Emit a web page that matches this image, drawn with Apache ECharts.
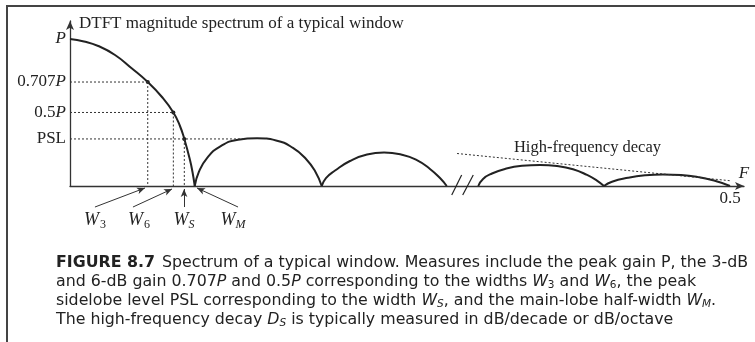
<!DOCTYPE html>
<html>
<head>
<meta charset="utf-8">
<title>Spectrum of a typical window</title>
<script src="https://cdn.jsdelivr.net/npm/echarts@6/dist/echarts.min.js"></script>
<style>
  html, body { margin: 0; padding: 0; background: #fff; }
  #chart { width: 755px; height: 342px; }
</style>
</head>
<body>
<div id="chart"></div>
<script>
// digital frequency F and magnitude (relative to P)
const mainF = [0, 0.0106, 0.0214, 0.0341, 0.0467, 0.0589, 0.0695, 0.0783, 0.0833, 0.0866, 0.0909, 0.0928, 0.0945]
const mainA = [1, 0.983, 0.952, 0.891, 0.801, 0.707, 0.607, 0.5, 0.408, 0.32, 0.177, 0.095, 0]
const lobe1F = [0.0945, 0.0977, 0.1038, 0.1136, 0.1273, 0.1417, 0.1561, 0.1689, 0.1788, 0.1856, 0.1907]
const lobe1A = [0, 0.098, 0.19, 0.268, 0.315, 0.324, 0.310, 0.259, 0.184, 0.102, 0]
const lobe2F = [0.1907, 0.1939, 0.2008, 0.2121, 0.2250, 0.2379, 0.2508, 0.2621, 0.2727, 0.2803, 0.2854]
const lobe2A = [0, 0.054, 0.105, 0.170, 0.214, 0.227, 0.214, 0.180, 0.116, 0.054, 0]
const lobe3F = [0.3093, 0.3129, 0.3197, 0.3295, 0.3424, 0.3561, 0.3689, 0.3811, 0.3917, 0.3992, 0.4045]
const lobe3A = [0, 0.048, 0.085, 0.116, 0.137, 0.143, 0.136, 0.114, 0.075, 0.037, 0]
const lobe4F = [0.4045, 0.4106, 0.4227, 0.4356, 0.4492, 0.4629, 0.4758, 0.4879, 0.5]
const lobe4A = [0, 0.029, 0.056, 0.073, 0.079, 0.075, 0.061, 0.037, 0]

// marked levels on the y axis and the widths they give
const levelVals = [1, 0.707, 0.5, 0.32]
const levelNames = ['{i|P}', '0.707{i|P}', '0.5{i|P}', 'PSL']
const levelEndF = [0, 0.0589, 0.0783, 0.1326] // where each dotted level line stops
const widthF = [0.0589, 0.0783, 0.0866, 0.0945] // W3, W6, WS, WM
const widthNames = ['{w|W}{s|3}', '{w|W}{s|6}', '{w|W}{si|S}', '{w|W}{si|M}']

// W label spots and pointer arrows (lower strip, same F scale)
const labelF = [0.0189, 0.0523, 0.0864, 0.1235]
const labelA = -0.231
const arrowTail = [[0.0189, -0.143], [0.0477, -0.143], [0.0864, -0.143], [0.1273, -0.143]]
const arrowHead = [[0.0568, -0.0136], [0.0773, -0.0204], [0.0864, -0.0204], [0.0962, -0.0136]]

// high-frequency decay envelope and axis break
const decayF = [0.2932, 0.5]
const decayA = [0.221, 0.036]
const decayLabel = [0.392, 0.259]
const breakMarks = [
  [[0.2892, -0.0612], [0.2967, 0.0748]],
  [[0.2975, -0.0612], [0.3055, 0.0748]]
]

const ink = '#222'
const serif = 'Liberation Serif'
const sans = 'DejaVu Sans'

function pairs (f, a) {
  return f.map((x, i) => [x, a[i]])
}

function lobe (f, a) {
  return {
    type: 'line',
    data: pairs(f, a),
    smooth: 0.5,
    symbol: 'none',
    silent: true,
    lineStyle: { color: ink, width: 2 }
  }
}

function dotted (data) {
  return {
    type: 'line',
    data: data,
    symbol: 'none',
    silent: true,
    lineStyle: { color: '#333', width: 1, type: [2, 2] }
  }
}

const series = [
  lobe(mainF, mainA),
  lobe(lobe1F, lobe1A),
  lobe(lobe2F, lobe2A),
  lobe(lobe3F, lobe3A),
  lobe(lobe4F, lobe4A)
]
// horizontal level lines and vertical drops to the widths
for (let i = 1; i < levelVals.length; i++) {
  series.push(dotted([[0, levelVals[i]], [levelEndF[i], levelVals[i]]]))
  series.push(dotted([[widthF[i - 1], levelVals[i]], [widthF[i - 1], 0]]))
}
series.push({
  type: 'scatter',
  data: levelVals.slice(1).map((v, i) => [widthF[i], v]),
  symbolSize: 4,
  silent: true,
  itemStyle: { color: ink, opacity: 1 }
})
series.push(dotted(pairs(decayF, decayA)))
series.push({
  type: 'scatter',
  data: [decayLabel],
  symbolSize: 0,
  silent: true,
  itemStyle: { opacity: 1 },
  label: {
    show: true,
    position: 'inside',
    formatter: 'High-frequency decay',
    fontFamily: serif,
    fontSize: 16.5,
    color: ink
  }
})
breakMarks.forEach(m => {
  series.push({
    type: 'line',
    data: m,
    symbol: 'none',
    clip: false,
    silent: true,
    lineStyle: { color: ink, width: 1.2 }
  })
})
// W labels with their arrows in the strip under the axis
series.push({
  type: 'scatter',
  xAxisIndex: 1,
  yAxisIndex: 1,
  data: labelF.map((x, i) => [x, labelA, i]),
  symbolSize: 0,
  silent: true,
  itemStyle: { opacity: 1 },
  label: {
    show: true,
    position: 'inside',
    formatter: p => widthNames[p.data[2]],
    rich: {
      w: { fontFamily: serif, fontStyle: 'italic', fontSize: 18, color: ink },
      s: { fontFamily: serif, fontSize: 12, color: ink, padding: [10, 0, 0, 1] },
      si: { fontFamily: serif, fontStyle: 'italic', fontSize: 12, color: ink, padding: [10, 0, 0, 0] }
    }
  },
  markLine: {
    silent: true,
    symbol: ['none', 'arrow'],
    symbolSize: [5, 8],
    label: { show: false },
    lineStyle: { color: '#333', width: 1, type: 'solid', opacity: 1 },
    data: arrowTail.map((t, i) => [{ coord: t }, { coord: arrowHead[i] }])
  }
})

const chart = echarts.init(document.getElementById('chart'))
chart.setOption({
  animation: false,
  backgroundColor: '#fff',
  title: {
    left: 56,
    top: 253,
    padding: 0,
    text: '{b|FIGURE 8.7} Spectrum of a typical window. Measures include the peak gain P, the 3-dB\n' +
      'and 6-dB gain 0.707{i|P} and 0.5{i|P} corresponding to the widths {i|W}{s|3} and {i|W}{s|6}, the peak\n' +
      'sidelobe level PSL corresponding to the width {i|W}{si|S}, and the main-lobe half-width {i|W}{si|M}.\n' +
      'The high-frequency decay {i|D}{si|S} is typically measured in dB/decade or dB/octave',
    textStyle: {
      fontFamily: sans,
      fontSize: 15.8,
      fontWeight: 'normal',
      color: ink,
      lineHeight: 19,
      rich: {
        b: { fontFamily: sans, fontSize: 15.8, fontWeight: 'bold', color: ink, lineHeight: 19, padding: [0, 2, 0, 0] },
        i: { fontFamily: sans, fontSize: 15.8, fontStyle: 'italic', color: ink, lineHeight: 19 },
        s: { fontFamily: sans, fontSize: 10.5, color: ink, lineHeight: 19, padding: [7, 0, 0, 0] },
        si: { fontFamily: sans, fontSize: 10.5, fontStyle: 'italic', color: ink, lineHeight: 19, padding: [7, 0, 0, 0] }
      }
    }
  },
  graphic: [
    { type: 'line', shape: { x1: 6, y1: 6, x2: 755, y2: 6 }, style: { stroke: '#444', lineWidth: 2 } },
    { type: 'line', shape: { x1: 7, y1: 6, x2: 7, y2: 342 }, style: { stroke: '#444', lineWidth: 2 } }
  ],
  grid: [
    { left: 70, right: 11, top: 21, bottom: 156 },
    { left: 70, right: 11, top: 186, bottom: 110 }
  ],
  xAxis: [
    {
      type: 'value',
      min: 0,
      max: 0.5106,
      name: 'F',
      nameLocation: 'end',
      nameGap: 0,
      nameTextStyle: {
        fontFamily: serif, fontStyle: 'italic', fontSize: 17, color: ink,
        align: 'center', verticalAlign: 'bottom', padding: [0, 0, 4, 0]
      },
      axisLine: { lineStyle: { color: '#333', width: 1.3 }, symbol: ['none', 'arrow'], symbolSize: [6, 9] },
      axisTick: { show: false },
      splitLine: { show: false },
      axisLabel: {
        customValues: [0.5],
        formatter: v => String(v),
        margin: 4,
        fontFamily: serif,
        fontSize: 17,
        color: ink
      }
    },
    { type: 'value', gridIndex: 1, min: 0, max: 0.5106, show: false }
  ],
  yAxis: [
    {
      type: 'value',
      min: 0,
      max: 1.122,
      name: 'DTFT magnitude spectrum of a typical window',
      nameLocation: 'end',
      nameGap: -3,
      nameTextStyle: {
        fontFamily: serif, fontSize: 17, color: ink,
        align: 'left', verticalAlign: 'middle', padding: [0, 0, 0, 9]
      },
      axisLine: { lineStyle: { color: '#333', width: 1.3 }, symbol: ['none', 'arrow'], symbolSize: [6, 9] },
      axisTick: { show: false },
      splitLine: { show: false },
      axisLabel: {
        customValues: levelVals.slice(),
        formatter: v => levelNames[levelVals.indexOf(v)],
        margin: 4,
        fontFamily: serif,
        fontSize: 17,
        color: ink,
        rich: {
          i: { fontFamily: serif, fontStyle: 'italic', fontSize: 17, color: ink }
        }
      }
    },
    { type: 'value', gridIndex: 1, min: -0.313, max: 0, show: false }
  ],
  series: series
})
</script>
</body>
</html>
